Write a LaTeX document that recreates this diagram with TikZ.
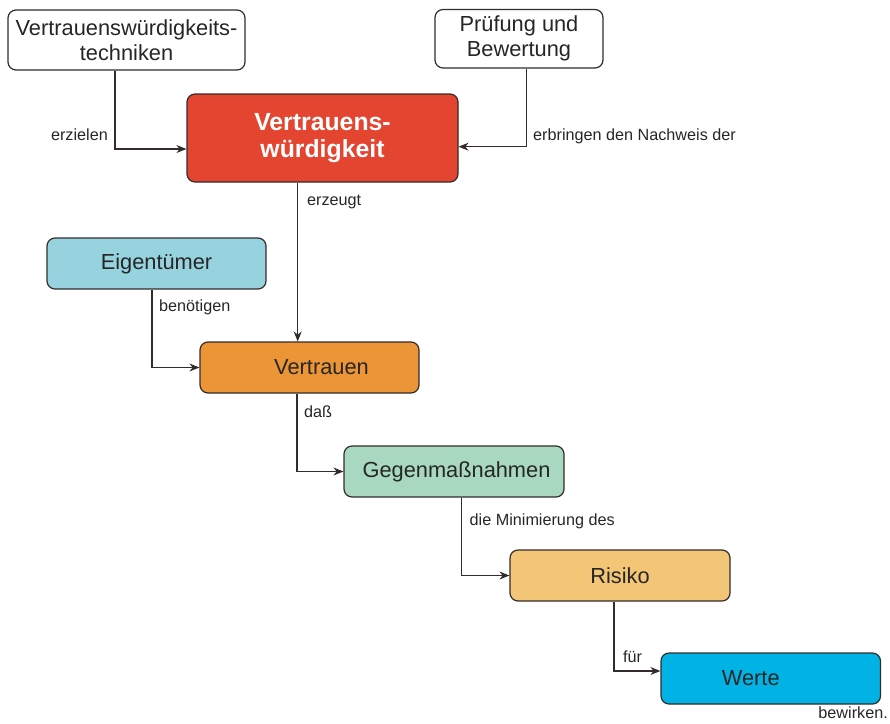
\documentclass[tikz,border=0pt]{standalone}
\usepackage{fontspec}
\setmainfont{Liberation Sans}
\usetikzlibrary{arrows.meta,calc}
\definecolor{cred}{HTML}{E34530}
\definecolor{cblue}{HTML}{97D3DF}
\definecolor{corange}{HTML}{EC9537}
\definecolor{cgreen}{HTML}{A8D9C0}
\definecolor{csand}{HTML}{F3C577}
\definecolor{ccyan}{HTML}{00B3E4}
\definecolor{cline}{HTML}{332C2B}
\begin{document}
\begin{tikzpicture}[x=1pt,y=-1pt,
  box/.style={draw=cline,line width=1.2pt,rounded corners=8pt,align=center,
    inner sep=0pt,font=\fontsize{21.8}{25}\selectfont,text=black!85},
  arr/.style={draw=cline,line width=1.1pt,-{Stealth[length=10pt,width=8pt]}},
  lbl/.style={font=\fontsize{16.2}{18}\selectfont,text=black!85,inner sep=0pt}]
\useasboundingbox (0,0) rectangle (890,723);
\node[box,fill=white,minimum width=237pt,minimum height=60pt] (vt) at (126.5,40) {Vertrauenswürdigkeits-\\techniken};
\node[box,fill=white,minimum width=168pt,minimum height=58.5pt] (pb) at (519,38.75) {Prüfung und\\Bewertung};
\node[box,fill=cred,text=white,minimum width=271pt,minimum height=88pt,font=\fontsize{24.8}{27}\selectfont\bfseries] (vw) at (322.5,138) {Vertrauens-\\würdigkeit};
\node[box,fill=cblue,minimum width=219pt,minimum height=51pt] (eig) at (156.5,263.5) {Eigentümer};
\node[box,fill=corange,minimum width=219pt,minimum height=51pt] (vtr) at (309.5,367.5) {\hspace*{24pt}Vertrauen};
\node[box,fill=cgreen,minimum width=220pt,minimum height=51pt] (gm) at (454,471.5) {\hspace*{5pt}Gegenmaßnahmen};
\node[box,fill=csand,minimum width=220pt,minimum height=51pt] (ri) at (620,575.5) {Risiko};
\node[box,fill=ccyan,minimum width=219.5pt,minimum height=51pt] (we) at (770.75,678.5) {Werte\hspace*{40pt}};

\draw[arr] ([xshift=-11.5pt]vt.south) |- ([yshift=-11pt]vw.west);
\draw[arr] ([xshift=7.7pt]pb.south) |- ([yshift=-8.7pt]vw.east);
\coordinate (vws) at ([xshift=-24.8pt]vw.south);
\draw[arr] (vws) -- (vws |- vtr.north);
\draw[arr] ([xshift=-4.5pt]eig.south) |- (vtr.west);
\draw[arr] ([xshift=-12.5pt]vtr.south) |- (gm.west);
\draw[arr] ([xshift=7.6pt]gm.south) |- (ri.west);
\draw[arr] ([xshift=-6pt]ri.south) |- ([yshift=7.5pt]we.west);

\node[lbl,anchor=mid east] (l1) at (108,138) {erzielen};
\node[lbl,anchor=mid west] (l2) at (533,137.7) {erbringen den Nachweis der};
\node[lbl,anchor=mid west] (l3) at (307,203.3) {erzeugt};
\node[lbl,anchor=mid west] (l4) at (159,309) {benötigen};
\node[lbl,anchor=mid west] (l5) at (304,415) {daß};
\node[lbl,anchor=mid west] (l6) at (469.5,522.7) {die Minimierung des};
\node[lbl,anchor=mid west] (l7) at (623,660) {für};
\node[lbl,anchor=mid east] (l8) at (888,716) {bewirken.};
\end{tikzpicture}
\end{document}
